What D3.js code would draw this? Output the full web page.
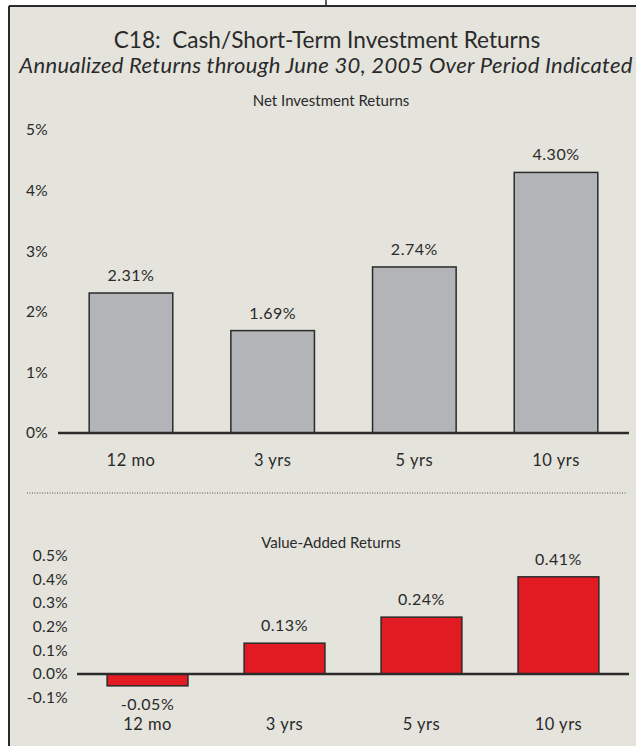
<!DOCTYPE html>
<html>
<head>
<meta charset="utf-8">
<script src="https://cdn.jsdelivr.net/npm/d3@7"></script>
<style>
  body { margin: 0; background: #fff; }
  svg text { font-family: Lato, "Liberation Sans", sans-serif; fill: #2a2a2a; }
</style>
</head>
<body>
<div id="chart"></div>
<script>
// chart data
var categories = ["12 mo", "3 yrs", "5 yrs", "10 yrs"];
var netReturns = [2.31, 1.69, 2.74, 4.30];
var valueAdded = [-0.05, 0.13, 0.24, 0.41];
var netTicks = [0, 1, 2, 3, 4, 5];
var vaTicks = [-0.1, 0, 0.1, 0.2, 0.3, 0.4, 0.5];

var svgWidth = 636;
var svgHeight = 746;

var svg = d3.select("#chart")
  .append("svg")
  .attr("width", svgWidth)
  .attr("height", svgHeight);

// panel background and border
svg.append("rect")
  .attr("x", 9).attr("y", 6)
  .attr("width", svgWidth - 9).attr("height", svgHeight - 6)
  .attr("fill", "#e4e3dc");
svg.append("line")
  .attr("x1", 9).attr("x2", svgWidth).attr("y1", 6).attr("y2", 6)
  .attr("stroke", "#2b2b2b").attr("stroke-width", 2);
svg.append("line")
  .attr("x1", 9).attr("x2", 9).attr("y1", 6).attr("y2", svgHeight)
  .attr("stroke", "#2b2b2b").attr("stroke-width", 2);
svg.append("line")
  .attr("x1", 326).attr("x2", 326).attr("y1", 0).attr("y2", 6)
  .attr("stroke", "#2b2b2b").attr("stroke-width", 1.5);

// titles
svg.append("text")
  .attr("x", 327).attr("y", 48)
  .attr("text-anchor", "middle")
  .style("font-size", "22.6px")
  .style("white-space", "pre")
  .text("C18:  Cash/Short-Term Investment Returns");

svg.append("text")
  .attr("x", 326).attr("y", 73)
  .attr("text-anchor", "middle")
  .style("font-size", "22px")
  .style("letter-spacing", "0.3px")
  .style("font-style", "italic")
  .text("Annualized Returns through June 30, 2005 Over Period Indicated");

// draw one bar panel
function RenderPanel(opts) {
  var g = svg.append("g");

  var x = d3.scaleBand()
    .domain(categories)
    .range(opts.xRange)
    .paddingInner(0.41)
    .paddingOuter(0.22);

  var y = d3.scaleLinear()
    .domain(opts.domain)
    .range(opts.yRange);

  g.append("text")
    .attr("x", 331).attr("y", opts.labelY)
    .attr("text-anchor", "middle")
    .style("font-size", "15px")
    .text(opts.label);

  // y tick labels
  var axis = g.append("g")
    .attr("transform", `translate(${opts.tickX}, 0)`)
    .call(d3.axisLeft(y).tickValues(opts.ticks).tickSize(0).tickFormat(opts.fmt));
  axis.select(".domain").remove();
  axis.selectAll("text")
    .attr("x", 0)
    .attr("text-anchor", opts.tickAnchor)
    .style("font-size", "15.5px")
    .style("letter-spacing", "0.3px")
    .style("font-family", null)
    .attr("fill", "#2a2a2a");

  // bars
  g.selectAll("rect.bar")
    .data(opts.values)
    .enter()
    .append("rect")
    .attr("class", "bar")
    .attr("x", (d, i) => x(categories[i]))
    .attr("width", x.bandwidth())
    .attr("y", d => y(Math.max(0, d)))
    .attr("height", d => Math.abs(y(d) - y(0)))
    .attr("fill", opts.color)
    .attr("stroke", "#2b2b2b")
    .attr("stroke-width", 1.5);

  // zero line
  g.append("line")
    .attr("x1", opts.xRange[0]).attr("x2", opts.xRange[1])
    .attr("y1", y(0)).attr("y2", y(0))
    .attr("stroke", "#2b2b2b").attr("stroke-width", 2.5);

  // value labels
  g.selectAll("text.val")
    .data(opts.values)
    .enter()
    .append("text")
    .attr("class", "val")
    .attr("x", (d, i) => x(categories[i]) + x.bandwidth() / 2)
    .attr("y", d => d >= 0 ? y(d) - 12 : y(d) + 24)
    .attr("text-anchor", "middle")
    .style("font-size", "16px")
    .style("letter-spacing", "0.5px")
    .text(d => d.toFixed(2) + "%");

  // category labels
  g.selectAll("text.cat")
    .data(categories)
    .enter()
    .append("text")
    .attr("class", "cat")
    .attr("x", d => x(d) + x.bandwidth() / 2)
    .attr("y", opts.catY)
    .attr("text-anchor", "middle")
    .style("font-size", "16.5px")
    .style("letter-spacing", "0.5px")
    .text(d => d);
}

RenderPanel({
  values: netReturns,
  ticks: netTicks,
  domain: [0, 5],
  yRange: [433, 130],
  xRange: [58, 629],
  color: "#b3b4b7",
  label: "Net Investment Returns",
  labelY: 106,
  tickX: 26,
  tickAnchor: "start",
  fmt: d => d + "%",
  catY: 466
});

// dotted separator
svg.append("line")
  .attr("x1", 27).attr("x2", 627).attr("y1", 493).attr("y2", 493)
  .attr("stroke", "#555").attr("stroke-width", 1)
  .attr("stroke-dasharray", "1,1.5");

RenderPanel({
  values: valueAdded,
  ticks: vaTicks,
  domain: [-0.1, 0.5],
  yRange: [697.7, 555.5],
  xRange: [77, 629],
  color: "#e21b23",
  label: "Value-Added Returns",
  labelY: 548,
  tickX: 68,
  tickAnchor: "end",
  fmt: d => d.toFixed(1) + "%",
  catY: 730
});
</script>
</body>
</html>
